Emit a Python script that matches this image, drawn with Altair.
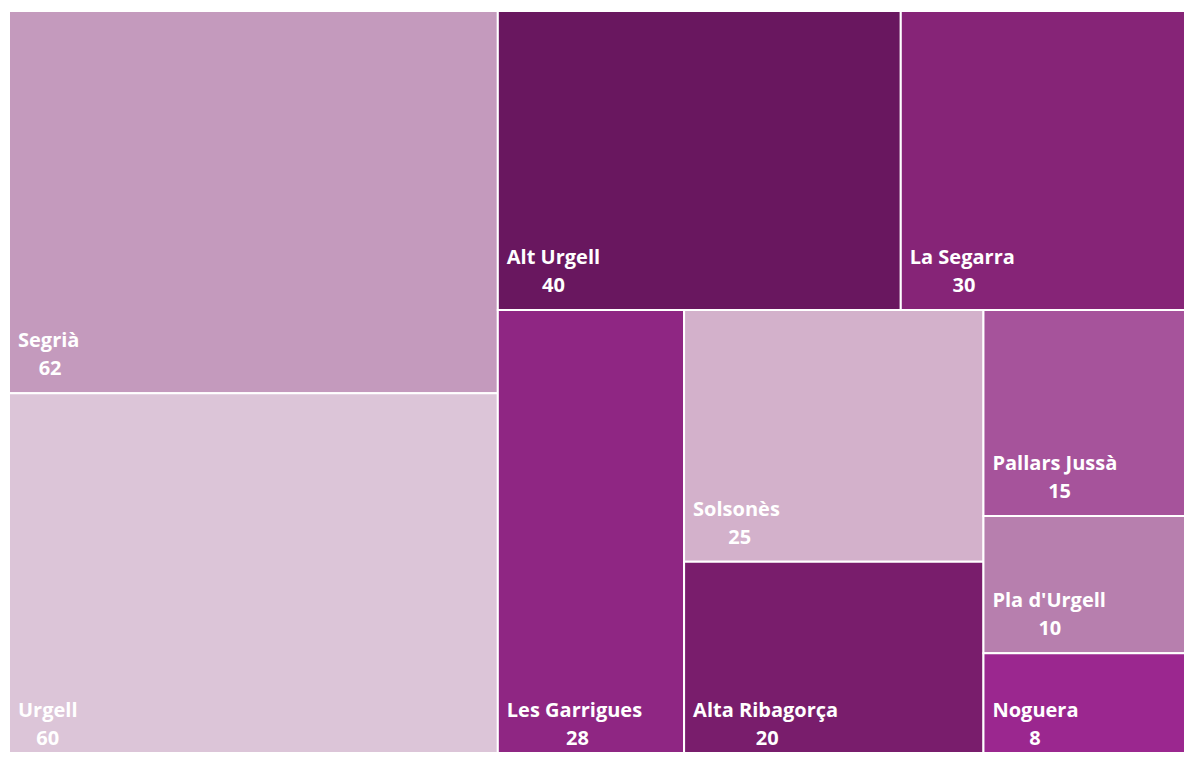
import altair as alt
import pandas as pd

# ---- data ----
names = ["Segrià", "Urgell", "Alt Urgell", "La Segarra", "Les Garrigues",
         "Solsonès", "Alta Ribagorça", "Pallars Jussà", "Pla d'Urgell", "Noguera"]
values = [62, 60, 40, 30, 28, 25, 20, 15, 10, 8]
colors = ["#c49abd", "#dcc5d8", "#69175f", "#862477", "#8f2683",
          "#d3b1cb", "#791d6c", "#a6539b", "#b77fae", "#9b278f"]
# treemap strips (groups of consecutive items laid out together)
groups = [["Segrià", "Urgell"], ["Alt Urgell", "La Segarra"], ["Les Garrigues"],
          ["Solsonès", "Alta Ribagorça"], ["Pallars Jussà", "Pla d'Urgell", "Noguera"]]

# full treemap extent (layout units = px); the visible window is smaller,
# as in the reference, where the map runs past the right and bottom edges
W, H = 1194, 752
VW, VH = 1175, 741
FONT = "Open Sans"
FS = 20

# ---- treemap layout (strip-based) ----
val = dict(zip(names, values))
rects = {}
x, y, w, h = 0.0, 0.0, float(W), float(H)
remaining = float(sum(values))
for gi, g in enumerate(groups):
    gs = float(sum(val[n] for n in g))
    last = gi == len(groups) - 1
    if last:
        vertical = h >= w
        sx, sy, sw, sh = x, y, w, h
    elif w >= h:
        vertical = True
        sw = w * gs / remaining
        sx, sy, sh = x, y, h
        x += sw
        w -= sw
    else:
        vertical = False
        sh = h * gs / remaining
        sx, sy, sw = x, y, w
        y += sh
        h -= sh
    pos = sy if vertical else sx
    for n in g:
        if vertical:
            ih = sh * val[n] / gs
            rects[n] = (sx, pos, sx + sw, pos + ih)
            pos += ih
        else:
            iw = sw * val[n] / gs
            rects[n] = (pos, sy, pos + iw, sy + sh)
            pos += iw
    remaining -= gs

# approximate bold glyph widths (em/1000) for centring the value under the name
cw = {" ": 278, "A": 722, "G": 778, "J": 556, "L": 611, "N": 722, "P": 667, "R": 722,
      "S": 667, "U": 722, "a": 556, "b": 611, "c": 556, "d": 611, "e": 556, "g": 611,
      "i": 278, "l": 278, "n": 611, "o": 611, "r": 389, "s": 556, "t": 333, "u": 611,
      "'": 238, "ç": 556, "à": 556, "è": 556}


def tw(s):
    return sum(cw.get(c, 556) for c in s) / 1000.0 * FS * 1.05


rows = []
for n, v, c in zip(names, values, colors):
    x0, y0, x1, y1 = rects[n]
    rows.append({"name": n, "value": v, "color": c, "x0": x0, "y0": y0,
                 "x1": x1, "y1": y1, "cx": x0 + tw(n) / 2.0, "vlabel": str(v)})
df = pd.DataFrame(rows)

xs = alt.Scale(domain=[0, VW], nice=False, zero=False)
ys = alt.Scale(domain=[0, VH], nice=False, zero=False, reverse=True)

base = alt.Chart(df)

rect = base.mark_rect(stroke="white", strokeWidth=2, clip=True).encode(
    x=alt.X("x0:Q", scale=xs, axis=None),
    x2="x1:Q",
    y=alt.Y("y0:Q", scale=ys, axis=None),
    y2="y1:Q",
    color=alt.Color("color:N", scale=None, legend=None),
)

name_txt = base.mark_text(align="left", baseline="alphabetic", dx=9, dy=-46,
                          font=FONT, fontSize=FS, fontWeight="bold", color="white").encode(
    x=alt.X("x0:Q", scale=xs, axis=None),
    y=alt.Y("y1:Q", scale=ys, axis=None),
    text="name:N",
)

val_txt = base.mark_text(align="center", baseline="alphabetic", dx=9, dy=-18,
                         font=FONT, fontSize=FS, fontWeight="bold", color="white").encode(
    x=alt.X("cx:Q", scale=xs, axis=None),
    y=alt.Y("y1:Q", scale=ys, axis=None),
    text="vlabel:N",
)

chart = alt.layer(rect, name_txt, val_txt).properties(
    width=VW, height=VH,
    autosize=alt.AutoSizeParams(type="none"),
    padding={"left": 1, "top": 3, "right": 0, "bottom": 0},
).configure_view(stroke=None)

chart.save("out.html", embed_options={"renderer": "svg", "actions": False})
